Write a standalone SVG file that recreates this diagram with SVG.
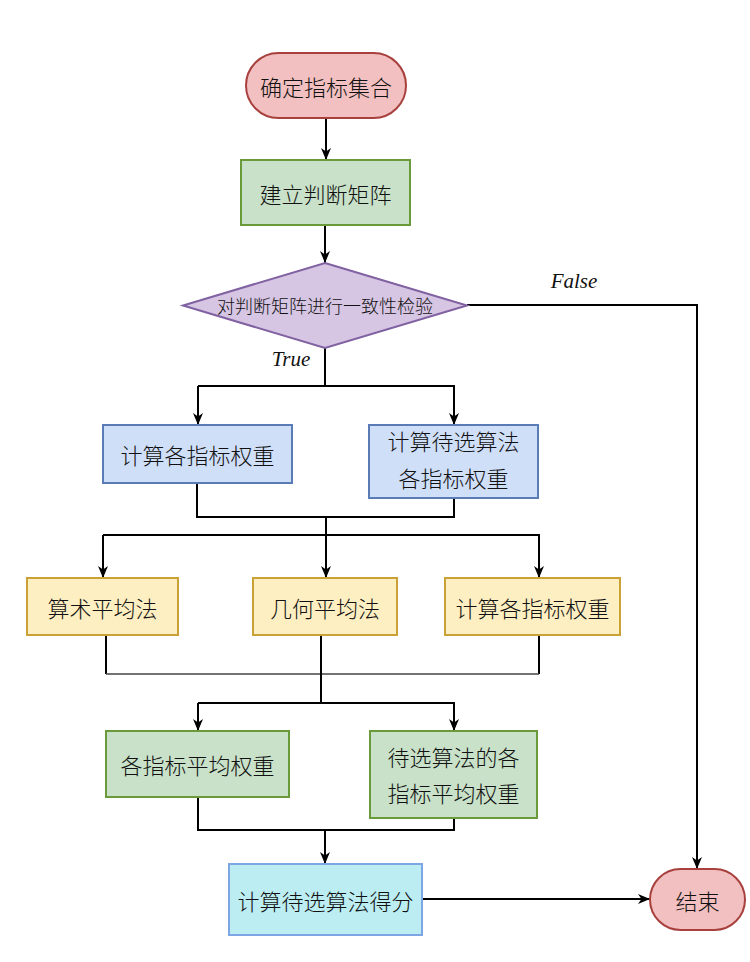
<svg xmlns="http://www.w3.org/2000/svg" width="750" height="962" viewBox="0 0 750 962">
<style>
.t{font-family:"Noto Sans CJK SC","Noto Sans",sans-serif;font-size:22px;font-weight:300;fill:#111;text-anchor:middle;dominant-baseline:central}
.s{font-size:18px}
.m{font-family:"Liberation Serif","DejaVu Serif",serif;font-style:italic;font-size:21px;fill:#111;text-anchor:middle}
.red{fill:#f2c0c0;stroke:#a8403e;stroke-width:2}
.grn{fill:#c8e1c8;stroke:#6a9b3a;stroke-width:2}
.pur{fill:#d6c5e3;stroke:#8061a1;stroke-width:2}
.blu{fill:#cfdff8;stroke:#5a7cb6;stroke-width:2}
.yel{fill:#fdefc1;stroke:#c9a136;stroke-width:2}
.cyn{fill:#bcedf2;stroke:#7ea6e4;stroke-width:2}
.c{fill:none;stroke:#000;stroke-width:2}
.a{marker-end:url(#ah)}
</style>
<defs>
<marker id="ah" viewBox="0 0 12 10" refX="12" refY="5" markerWidth="12" markerHeight="10" markerUnits="userSpaceOnUse" orient="auto">
<path d="M0,0 L12,5 L0,10 L3.5,5 Z" fill="#000"/>
</marker>
</defs>
<g id="connectors">
<path class="c a" d="M326,118 V160"/>
<path class="c a" d="M325,225 V263"/>
<path class="c a" d="M467,305 H697 V869"/>
<path class="c" d="M325,348 V386"/>
<path class="c a" d="M198,386 V425"/>
<path class="c a" d="M198,386 H454 V425"/>
<path class="c" d="M197,483 V517 H454 V498"/>
<path class="c" d="M326,517 V535"/>
<path class="c a" d="M103,535 V578"/>
<path class="c a" d="M326,535 V578"/>
<path class="c a" d="M103,535 H539 V578"/>
<path class="c" d="M106,635 V674"/>
<path class="c" d="M539,635 V674"/>
<path d="M106,674 H539" fill="none" stroke="#444" stroke-width="1.3"/>
<path class="c" d="M321,635 V703"/>
<path class="c a" d="M198,703 V731"/>
<path class="c a" d="M198,703 H454 V731"/>
<path class="c" d="M198,797 V830 H454 V818"/>
<path class="c a" d="M325,830 V864"/>
<path class="c a" d="M422,899 H650"/>
<text class="m" x="574" y="288">False</text>
<text class="m" x="291" y="366">True</text>
</g>
<g id="start">
<rect class="red" x="246" y="53" width="160" height="65" rx="32.5"/>
<text class="t" x="326" y="85.5">确定指标集合</text>
</g>
<g id="build">
<rect class="grn" x="241" y="160" width="169" height="65"/>
<text class="t" x="325.5" y="192.5">建立判断矩阵</text>
</g>
<g id="check">
<polygon class="pur" points="325,263 467,305.5 325,348 183,305.5"/>
<text class="t s" x="325" y="305">对判断矩阵进行一致性检验</text>
</g>
<g id="w1">
<rect class="blu" x="103" y="425" width="189" height="58"/>
<text class="t" x="197.5" y="454">计算各指标权重</text>
</g>
<g id="w2">
<rect class="blu" x="369" y="425" width="169" height="73"/>
<text class="t" x="453.5" y="440">计算待选算法</text>
<text class="t" x="453.5" y="477">各指标权重</text>
</g>
<g id="arith">
<rect class="yel" x="27" y="578" width="151" height="57"/>
<text class="t" x="102.5" y="606.5">算术平均法</text>
</g>
<g id="geo">
<rect class="yel" x="253" y="578" width="144" height="57"/>
<text class="t" x="325" y="606.5">几何平均法</text>
</g>
<g id="calc">
<rect class="yel" x="445" y="578" width="175" height="57"/>
<text class="t" x="532.5" y="606.5">计算各指标权重</text>
</g>
<g id="avg1">
<rect class="grn" x="106" y="731" width="183" height="66"/>
<text class="t" x="197.5" y="764">各指标平均权重</text>
</g>
<g id="avg2">
<rect class="grn" x="370" y="731" width="167" height="87"/>
<text class="t" x="453.5" y="756">待选算法的各</text>
<text class="t" x="453.5" y="792">指标平均权重</text>
</g>
<g id="score">
<rect class="cyn" x="229" y="864" width="193" height="71"/>
<text class="t" x="325.5" y="899.5">计算待选算法得分</text>
</g>
<g id="end">
<rect class="red" x="650" y="869" width="95" height="61" rx="30.5"/>
<text class="t" x="697.5" y="899.5">结束</text>
</g>
</svg>
